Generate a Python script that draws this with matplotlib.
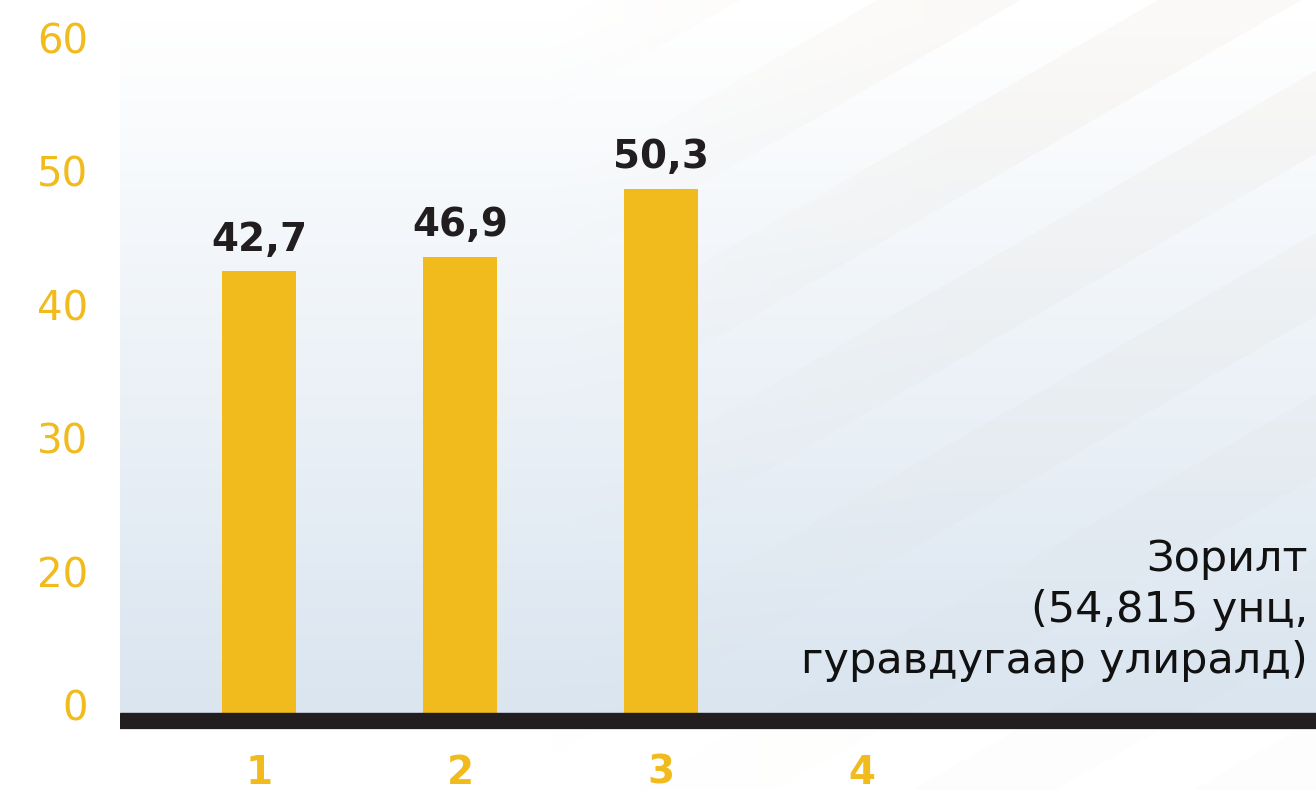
import numpy as np
import matplotlib
matplotlib.use("Agg")
import matplotlib.pyplot as plt

# data
categories = ["1", "2", "3", "4"]
bar_values = [42.5, 43.6, 48.7]          # drawn bar heights (on the axis scale)
bar_labels = ["42,7", "46,9", "50,3"]
y_tick_values = [0, 20, 30, 40, 50, 60]  # axis labels are evenly spaced
note = "Зорилт\n(54,815 унц,\nгуравдугаар улиралд)"

GOLD = "#f1ba1d"
INK = "#221e1f"
W, H = 1316, 790

plt.rcParams["font.family"] = ["DejaVu Sans"]

# background: vertical gradient in the plot panel + faint diagonal bands
yy, xx = np.mgrid[0:H, 0:W].astype(float)
img = np.ones((H, W, 3))
t = np.clip((yy - 20) / (713 - 20), 0, 1)[..., None]
bottom = np.array([218, 229, 240]) / 255
panel = (1 - t) * 1.0 + t * bottom
inside = ((xx >= 120) & (yy <= 729))[..., None]
img = np.where(inside, panel, img)
s = yy + 0.577 * (xx - 900)
band = (np.mod(s - 148, 162) < 83).astype(float)
fade = (np.clip((xx - 550) / 400, 0, 1)
        * np.clip(1 - (yy - 150) / 650, 0.25, 1) * band)
shade = np.array([0.986, 0.979, 0.970])
img = img * (1 - fade[..., None] * (1 - shade))

fig = plt.figure(figsize=(W / 100, H / 100), dpi=100)
bg = fig.add_axes([0, 0, 1, 1], zorder=0)
bg.imshow(img, extent=(0, W, H, 0), aspect="auto", interpolation="bilinear")
bg.axis("off")

ax = fig.add_axes([120 / W, 61 / H, 1196 / W, 709 / H], zorder=1)
ax.patch.set_alpha(0)
for sp in ax.spines.values():
    sp.set_visible(False)

tick_pos = np.arange(len(y_tick_values))
xs = np.arange(1, len(categories) + 1)
heights = np.interp(bar_values, y_tick_values, tick_pos)
base = -0.06
ax.bar(xs[:len(heights)], heights - base, bottom=base, width=0.368,
       color=GOLD, zorder=2)
ax.axhspan(-0.18, -0.06, color=INK, zorder=3)

for x, h, lab in zip(xs, heights, bar_labels):
    ax.annotate(lab, (x, h), xytext=(0, 15), textcoords="offset points",
                ha="center", va="baseline", fontsize=28, fontweight="bold",
                color=INK, zorder=4)

ax.set_xlim(0.3085, 6.259)
ax.set_ylim(-0.18, 5.135)
ax.set_yticks(tick_pos)
ax.set_yticklabels([str(v) for v in y_tick_values])
ax.set_xticks(xs)
ax.set_xticklabels(categories)
ax.tick_params(axis="y", length=0, pad=23, labelsize=29, labelcolor=GOLD)
ax.tick_params(axis="x", length=0, pad=18, labelsize=28, labelcolor=GOLD)
for lab in ax.get_xticklabels():
    lab.set_fontweight("bold")

ax.text((1308 - 120) / 1196, (729 - 673) / 709, note, transform=ax.transAxes,
        ha="right", va="baseline", multialignment="right", fontsize=31,
        color="#111111", linespacing=1.28, zorder=4)

fig.savefig("out.png", dpi=100)
